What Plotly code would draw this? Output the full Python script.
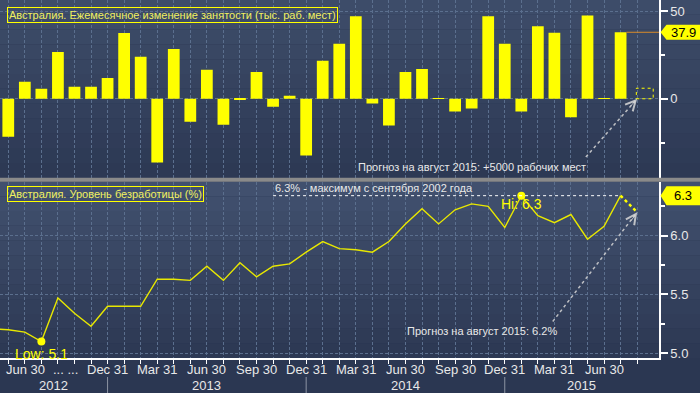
import plotly.graph_objects as go

# ---------------- data ----------------
months = ["2012-05", "2012-06", "2012-07", "2012-08", "2012-09", "2012-10", "2012-11", "2012-12",
          "2013-01", "2013-02", "2013-03", "2013-04", "2013-05", "2013-06", "2013-07", "2013-08",
          "2013-09", "2013-10", "2013-11", "2013-12",
          "2014-01", "2014-02", "2014-03", "2014-04", "2014-05", "2014-06", "2014-07", "2014-08",
          "2014-09", "2014-10", "2014-11", "2014-12",
          "2015-01", "2015-02", "2015-03", "2015-04", "2015-05", "2015-06", "2015-07"]

# monthly employment change, thousands (None = not shown)
employment_change = [None, -21.6, 9.7, 5.7, 26.7, 6.8, 6.8, 11.9,
                     37.5, 23.9, -36.4, 28.4, -13.1, 16.5, -14.8, -0.5,
                     15.3, -4.5, 1.7, -32.4,
                     21.6, 31.3, 47.0, -2.7, -15.2, 15.2, 16.9, 0.3,
                     -7.2, -5.5, 47.0, 31.4,
                     -7.2, 41.3, 37.7, -10.6, 47.5, 0.3, 37.9]

# unemployment rate, %
unemployment = [5.21, 5.20, 5.18, 5.10, 5.47, 5.34, 5.23, 5.40,
                5.40, 5.40, 5.63, 5.63, 5.62, 5.74, 5.62, 5.77,
                5.65, 5.74, 5.76, 5.86,
                5.95, 5.89, 5.88, 5.86, 5.95, 6.10, 6.23, 6.10,
                6.22, 6.27, 6.25, 6.07,
                6.34, 6.17, 6.11, 6.18, 5.97, 6.08, 6.34]

forecast_month = "2015-08"
forecast_employment = 6.0
forecast_unemployment = 6.2

quarter_labels = {"2012-06": "Jun 30", "2012-09": "... ...", "2012-12": "Dec 31",
                  "2013-03": "Mar 31", "2013-06": "Jun 30", "2013-09": "Sep 30", "2013-12": "Dec 31",
                  "2014-03": "Mar 31", "2014-06": "Jun 30", "2014-09": "Sep 30", "2014-12": "Dec 31",
                  "2015-03": "Mar 31", "2015-06": "Jun 30"}
years = ["2012", "2013", "2014", "2015"]
year_ends = ["2012-12", "2013-12", "2014-12"]

title_top = "Австралия. Ежемесячное изменение занятости (тыс. раб. мест)"
title_bot = "Австралия. Уровень безработицы (%)"
note_max = "6.3% - максимум с сентября 2002 года"
note_fc_top = "Прогноз на август 2015: +5000 рабочих мест"
note_fc_bot = "Прогноз на август 2015: 6.2%"

# ---------------- layout geometry ----------------
W, H = 700, 393
ML, MR, MT, MB = 0, 41, 0, 35
PW, PH = W - ML - MR, H - MT - MB
pos = {m: i - 1 for i, m in enumerate(months)}
pos[forecast_month] = pos[months[-1]] + 1
X_RANGE = [-0.5, 39.32]
TOP_RANGE = [-45.0, 56.3]
BOT_RANGE = [4.96, 6.459]
top_dom = [1 - 177.7 / PH, 1.0]
bot_dom = [0.0, 1 - 181.7 / PH]
XR = W / PW  # paper x of right edge of window

FONT = "Liberation Sans"
YELLOW = "#ffff00"
TXT_Y = "#f0f060"
WHITE = "#e8e8e8"
GRID = "#5b6f8e"

xs = [pos[m] for m in months]

fig = go.Figure()

fig.add_trace(go.Bar(x=xs, y=employment_change, marker=dict(color=YELLOW, line=dict(width=0)),
                     width=0.71, xaxis="x", yaxis="y", showlegend=False))

fig.add_trace(go.Scatter(x=xs, y=unemployment, mode="lines",
                         line=dict(color="#e8e800", width=1.4), xaxis="x2", yaxis="y2",
                         showlegend=False))
fig.add_trace(go.Scatter(x=[xs[-1], pos[forecast_month]], y=[unemployment[-1], forecast_unemployment],
                         mode="lines", line=dict(color=YELLOW, width=2.5, dash="dot"),
                         xaxis="x2", yaxis="y2", showlegend=False))

vals = unemployment[1:]
xv = xs[1:]
i_hi = max(range(len(vals)), key=lambda i: vals[i])
i_lo = min(range(len(vals)), key=lambda i: vals[i])
fig.add_trace(go.Scatter(x=[xv[i_hi], xv[i_lo]], y=[vals[i_hi], vals[i_lo]], mode="markers",
                         marker=dict(color=YELLOW, size=8), xaxis="x2", yaxis="y2", showlegend=False))

shapes = []
annotations = []


def hexmix(c1, c2, t):
    a = [int(c1[i:i + 2], 16) for i in (1, 3, 5)]
    b = [int(c2[i:i + 2], 16) for i in (1, 3, 5)]
    return "#" + "".join("%02x" % round(a[k] + (b[k] - a[k]) * t) for k in range(3))


def bands(dom, ctop, cbot, n=12):
    for k in range(n):
        y1 = dom[1] - (dom[1] - dom[0]) * k / n
        y0 = dom[1] - (dom[1] - dom[0]) * (k + 1) / n
        shapes.append(dict(type="rect", xref="paper", yref="paper", x0=0, x1=XR, y0=y0, y1=y1,
                           fillcolor=hexmix(ctop, cbot, k / (n - 1)), line=dict(width=0), layer="below"))


bands(top_dom, "#3d4c69", "#2d3954")
bands(bot_dom, "#41506e", "#2d3954")
# grey separator
shapes.append(dict(type="rect", xref="paper", yref="paper", x0=0, x1=XR, y0=bot_dom[1], y1=top_dom[0],
                   fillcolor="#8a8a8a", line=dict(width=0), layer="above"))

# year separators
for m in year_ends:
    shapes.append(dict(type="line", xref="x2", yref="paper", x0=pos[m], x1=pos[m],
                       y0=(PH - 377) / PH, y1=(PH - 393) / PH,
                       line=dict(color="#8c94a3", width=1)))

# year labels
edges = [X_RANGE[0]] + [pos[m] for m in year_ends] + [X_RANGE[1]]
for k, yname in enumerate(years):
    annotations.append(dict(text=yname, xref="x2", yref="paper", x=(edges[k] + edges[k + 1]) / 2,
                            y=(PH - 385) / PH, showarrow=False, yanchor="middle",
                            font=dict(family=FONT, size=13, color=WHITE)))

# x tick labels (quarter ends)
for m, lab in quarter_labels.items():
    a = dict(text=lab, xref="x2", yref="paper", x=pos[m], y=(PH - 369) / PH, yanchor="middle",
             showarrow=False, font=dict(family=FONT, size=13, color=WHITE))
    if m == "2012-06":
        a.update(xanchor="left", xshift=-4)
    if m == "2012-09":
        a.update(xshift=8)
    annotations.append(a)

# titles
annotations.append(dict(text=title_top, xref="paper", yref="paper", x=7 / PW, y=1 - 15 / PH,
                        xanchor="left", yanchor="middle", showarrow=False,
                        font=dict(family=FONT, size=11, color=TXT_Y), bordercolor=YELLOW,
                        borderwidth=1, borderpad=1))
annotations.append(dict(text=title_bot, xref="paper", yref="paper", x=7 / PW, y=(PH - 193.5) / PH,
                        xanchor="left", yanchor="middle", showarrow=False,
                        font=dict(family=FONT, size=11, color=TXT_Y), bordercolor=YELLOW,
                        borderwidth=1, borderpad=1))

# max note with dotted line
shapes.append(dict(type="line", xref="x2", yref="y2", x0=16, x1=xs[-1], y0=vals[i_hi], y1=vals[i_hi],
                   line=dict(color="white", width=1, dash="dot")))
annotations.append(dict(text=note_max, xref="x2", yref="y2", x=16, y=vals[i_hi], xanchor="left",
                        yanchor="bottom", yshift=0, showarrow=False,
                        font=dict(family=FONT, size=11, color=WHITE)))

# Hi / Low labels
annotations.append(dict(text="Hi: %.1f" % vals[i_hi], xref="x2", yref="y2", x=xv[i_hi], y=vals[i_hi],
                        yshift=-8, yanchor="middle", showarrow=False,
                        font=dict(family=FONT, size=14, color=YELLOW)))
annotations.append(dict(text="Low: %.1f" % vals[i_lo], xref="x2", yref="y2", x=xv[i_lo], y=vals[i_lo],
                        yshift=-12, yanchor="middle", showarrow=False,
                        font=dict(family=FONT, size=14, color=YELLOW)))

# forecast box in top panel
fx = pos[forecast_month]
shapes.append(dict(type="rect", xref="x", yref="y", x0=fx - 0.05, x1=fx + 0.97, y0=0, y1=forecast_employment,
                   line=dict(color=YELLOW, width=1, dash="dot")))

# orange line to the last-value callout
shapes.append(dict(type="line", xref="x", yref="y", x0=xs[-1] + 0.35, x1=X_RANGE[1],
                   y0=employment_change[-1], y1=employment_change[-1],
                   line=dict(color="#d98a2a", width=1)))

# forecast notes with dotted arrows
ARROW = "rgba(215,215,215,0.85)"
annotations.append(dict(text=note_fc_top, xref="x", yref="y", x=28.0, y=-39.0, showarrow=False,
                        yanchor="middle", font=dict(family=FONT, size=11, color=WHITE)))
shapes.append(dict(type="line", xref="x", yref="y", x0=34.9, y0=-33.2, x1=fx, y1=0,
                   line=dict(color=ARROW, width=1.5, dash="dot")))
annotations.append(dict(text="", xref="x", yref="y", x=fx, y=0, ax=-8, ay=9, showarrow=True,
                        arrowhead=5, arrowsize=2, arrowwidth=1, arrowcolor=ARROW))

annotations.append(dict(text=note_fc_bot, xref="x2", yref="y2", x=28.6, y=5.19, showarrow=False,
                        yanchor="middle", font=dict(family=FONT, size=11, color=WHITE)))
shapes.append(dict(type="line", xref="x2", yref="y2", x0=32.9, y0=5.27, x1=fx, y1=forecast_unemployment,
                   line=dict(color=ARROW, width=1.5, dash="dot")))
annotations.append(dict(text="", xref="x2", yref="y2", x=fx, y=forecast_unemployment, ax=-7, ay=10,
                        showarrow=True, arrowhead=5, arrowsize=2, arrowwidth=1, arrowcolor=ARROW))


# last-value callouts on the right axis
def callout(yref, value, rng, dom, hpx, label):
    upp = (rng[1] - rng[0]) / ((dom[1] - dom[0]) * PH)  # data units per pixel
    h = hpx / 2 * upp
    tip, body = 1 + 1.5 / PW, 1 + 7.5 / PW
    path = "M %f,%f L %f,%f L %f,%f L %f,%f L %f,%f Z" % (
        tip, value, body, value + h, XR, value + h, XR, value - h, body, value - h)
    shapes.append(dict(type="path", xref="paper", yref=yref, path=path, fillcolor=YELLOW,
                       line=dict(width=0)))
    annotations.append(dict(text=label, xref="paper", yref=yref, x=(body + XR) / 2, y=value,
                            xanchor="center", yanchor="middle", showarrow=False,
                            font=dict(family=FONT, size=13, color="black")))


callout("y", employment_change[-1], TOP_RANGE, top_dom, 15, "%.1f" % employment_change[-1])
callout("y2", unemployment[-1], BOT_RANGE, bot_dom, 19, "%.1f" % unemployment[-1])

tick_months = months[1:] + [forecast_month]
tickvals = [pos[m] for m in tick_months]

xcommon = dict(range=X_RANGE, tickmode="array", tickvals=tickvals, showgrid=True, gridcolor=GRID,
               griddash="3px,2px", gridwidth=1, zeroline=False, domain=[0, 1], showticklabels=False)
ycommon = dict(side="right", showgrid=True, gridcolor=GRID, griddash="3px,2px", gridwidth=1,
               zeroline=False, showline=True, linecolor="white", linewidth=1.5, ticks="outside",
               ticklen=7, tickwidth=1.5, tickcolor="white", tickmode="array",
               tickfont=dict(family=FONT, size=13, color=WHITE))

fig.update_layout(
    width=W, height=H, margin=dict(l=ML, r=MR, t=MT, b=MB),
    paper_bgcolor="#2b3752", plot_bgcolor="rgba(0,0,0,0)",
    bargap=0.29, showlegend=False,
    xaxis=dict(**xcommon, anchor="y", ticks=""),
    xaxis2=dict(**xcommon, anchor="y2", ticks="outside",
                ticklen=4, tickcolor="white", showline=True, linecolor="white", linewidth=1.5),
    yaxis=dict(**ycommon, domain=top_dom, range=TOP_RANGE, anchor="x", tickvals=[0, 50],
               ticktext=["0", "50"],
               minor=dict(tickmode="array", tickvals=[-25, 25], ticks="outside", ticklen=4,
                          tickcolor="white", showgrid=False)),
    yaxis2=dict(**ycommon, domain=bot_dom, range=BOT_RANGE, anchor="x2", tickvals=[5.0, 5.5, 6.0],
                ticktext=["5.0", "5.5", "6.0"],
                minor=dict(tickmode="array", tickvals=[5.25, 5.75, 6.25], ticks="outside", ticklen=4,
                           tickcolor="white", showgrid=False)),
    shapes=shapes, annotations=annotations,
)

fig.write_html("out.html", config={"displayModeBar": False},
               post_script="document.body.style.margin='0';document.body.style.background='#2b3752';")
